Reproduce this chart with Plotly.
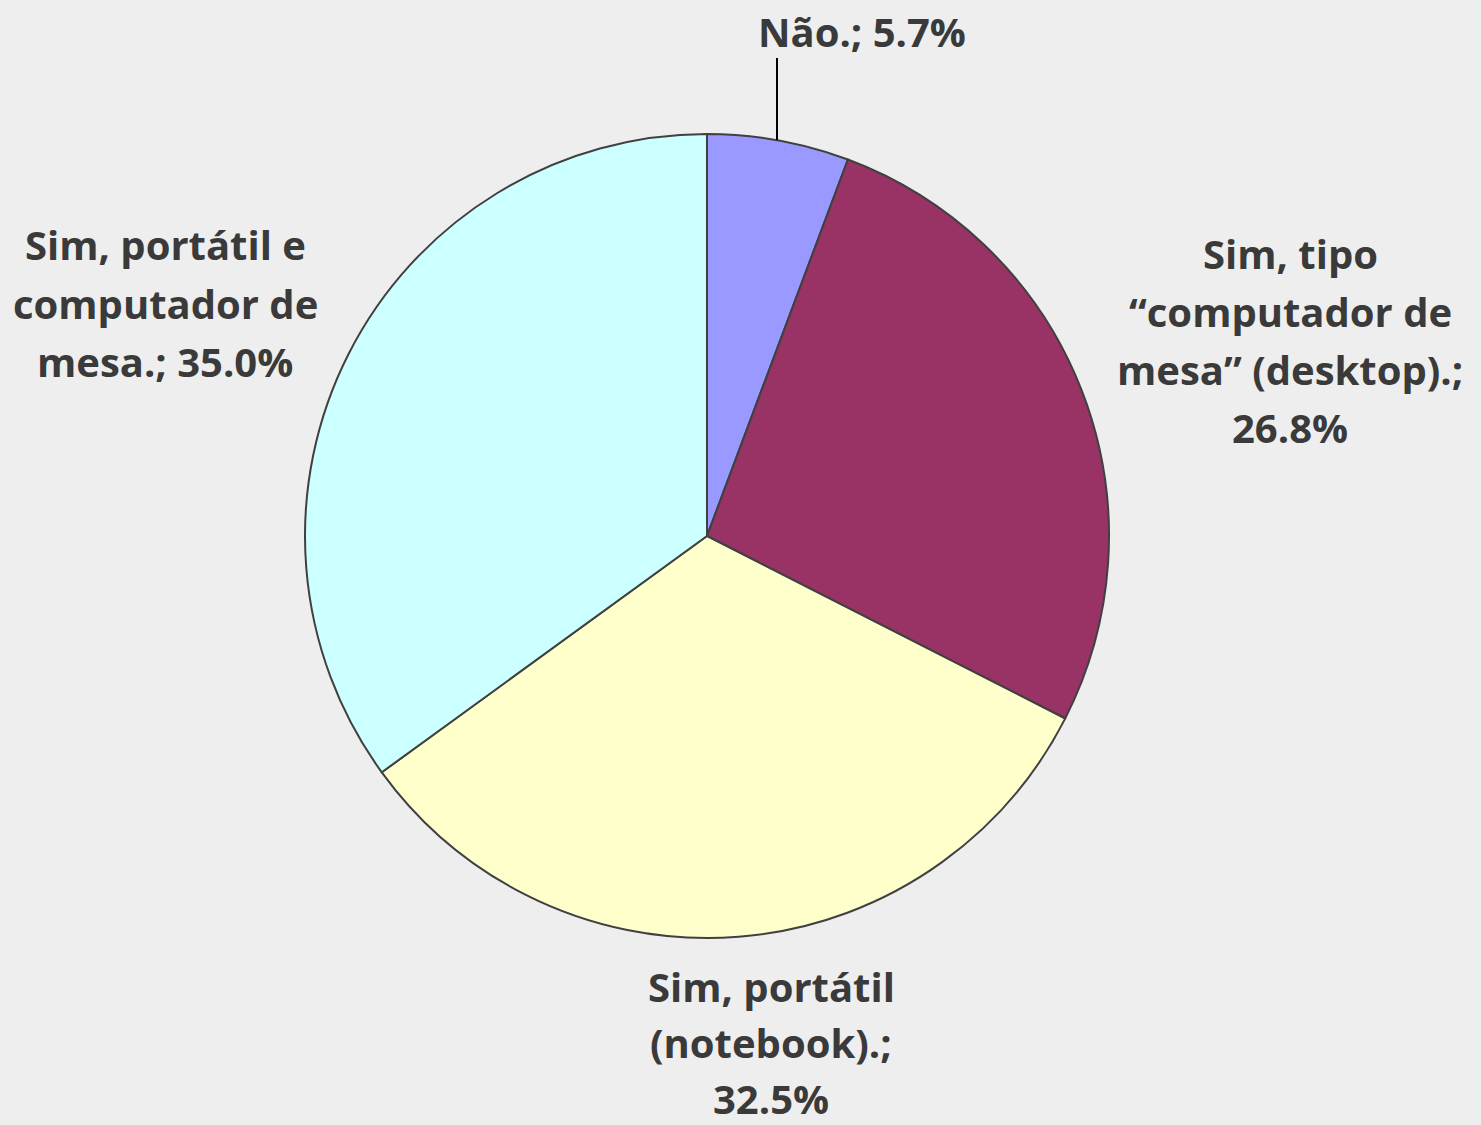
import plotly.graph_objects as go

W, H = 1481, 1125

categories = ["Não.", "Sim, tipo “computador de mesa” (desktop).",
              "Sim, portátil (notebook).", "Sim, portátil e computador de mesa."]
values = [5.7, 26.8, 32.5, 35.0]
colors = ["#9999FF", "#993366", "#FFFFCC", "#CCFFFF"]

label_lines = [
    ["Não.; 5.7%"],
    ["Sim, tipo", "“computador de", "mesa” (desktop).;", "26.8%"],
    ["Sim, portátil", "(notebook).;", "32.5%"],
    ["Sim, portátil e", "computador de", "mesa.; 35.0%"],
]
# label centre positions (pixels) - layout only
label_pos = [(862, 31), (1290, 253), (771, 986), (165, 245)]
line_gap = 58
bottom_gap = 56

cx, cy, r = 707, 536, 402

fig = go.Figure(go.Pie(
    labels=categories, values=values, sort=False, direction="clockwise",
    rotation=0, textinfo="none", hoverinfo="label+percent",
    marker=dict(colors=colors, line=dict(color="#404040", width=2)),
    domain=dict(x=[(cx - r) / W, (cx + r) / W],
                y=[(H - cy - r) / H, (H - cy + r) / H]),
    showlegend=False,
))

anns = []
for k, (lines, (px, py)) in enumerate(zip(label_lines, label_pos)):
    gap = bottom_gap if k == 2 else line_gap
    for i, t in enumerate(lines):
        anns.append(dict(
            x=px / W, y=1 - (py + i * gap) / H, xref="paper", yref="paper",
            text=t, showarrow=False, xanchor="center", yanchor="middle",
            font=dict(family="Open Sans", size=40, color="#3A3A3A", weight="bold"),
        ))

fig.update_layout(
    width=W, height=H, margin=dict(l=0, r=0, t=0, b=0),
    paper_bgcolor="#EEEEEE", plot_bgcolor="#EEEEEE",
    annotations=anns,
    shapes=[dict(type="line", xref="paper", yref="paper",
                 x0=777 / W, x1=777 / W, y0=1 - 140 / H, y1=1 - 58 / H,
                 line=dict(color="#000000", width=2))],
)

fig.write_html("out.html", config={"displayModeBar": False},
               post_script="document.body.style.margin='0';"
                           "document.body.style.background='#EEEEEE';")
